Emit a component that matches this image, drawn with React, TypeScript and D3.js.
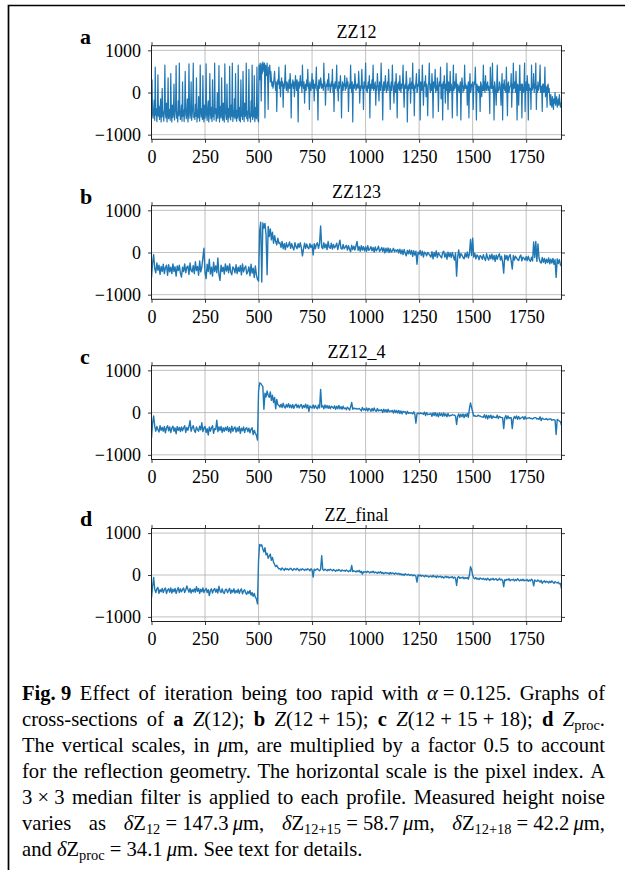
import React, { useEffect, useRef } from 'react';
import * as d3 from 'd3';

// ---------- data ----------
const X_MAX = 1915;
const X_TICKS = [0, 250, 500, 750, 1000, 1250, 1500, 1750];
const Y_TICKS = [-1000, 0, 1000];
const Y_DOMAIN = [-1110, 1110];
const PANEL_TITLES = ['ZZ12', 'ZZ123', 'ZZ12_4', 'ZZ_final'];
const PANEL_LETTERS = ['a', 'b', 'c', 'd'];

// ZZ12: sampled every 2.5 pixel indices (767 values)
const zz12 = [
  -250, 300, -520, -610, -430, -180, -660, 600, -540, -380, -690, -470, 420, -560, -320, -640, -500, -150, -700, -420,
  100, -580, -460, -680, -350, 650, -520, -600, -250, -700, -480, 350, -620, -540, -400, -660, 450, -450, -700, -300,
  -590, -480, 200, -650, -520, -380, 640, -610, -460, -700, -200, -550, 700, -430, -640, -500, -300, -680, 250, -560,
  -420, -690, -330, 500, -520, -620, -450, -150, -700, -560, 680, -400, -610, -480, 250, -660, -530, -350, 700, -590,
  -470, -640, -280, -560, 350, -700, -420, -600, -100, -520, -680, 650, -450, -580, -380, -640, 400, -560, -700, -300,
  -610, -480, 680, -540, -660, -400, -200, -700, -520, 450, -460, -620, -350, -690, 300, -570, -440, -650, 700, -500,
  -380, -680, -560, 0, -610, -450, 640, -700, -520, -330, -600, 350, -480, -660, -250, -580, -700, 680, -430, -560,
  -640, 200, -520, -700, -380, -600, 620, -470, -650, -300, -560, 700, -690, -440, -580, -150, -620, 450, -530, -680,
  -420, -600, 650, -500, -660, -350, -700, 300, -560, -480, -640, 500, -410, -690, -250, -570, -520, 700, -620, -450,
  -680, -380, 550, -600, -500, -700, -200, -560, 650, -640, -450, -580, 400, -690, -520, -350, -620, 600, -480, -660,
  -700, 650, 300, 700, 550, -200, 680, 450, 720, 620, 500, 700, -600, 650, 550, 400, 700, 300, -400, 600,
  450, 650, 250, 500,
  300, 150, 250, 100, 200, 350, 500, 200, 50, 250, -450, 150, 300, 200, 600, 100, 250, -100, 200, 350,
  150, 250, -350, 200, 100, 300, 650, 150, 50, 250, 200, 0, 150, 300, 100, 450, 250, -600, 200, 150,
  300, 100, 250, -100, 150, 400, 200, 50, 300, 150, -700, 250, 100, 200, 400, 150, 250, 0, 650, 200,
  100, 250, -250, 150, 200, 50, 300, 150, 550, 100, 200, -400, 250, 150, 50, 200, 450, 100, 300, 150,
  -200, 200, 100, 250, 600, 50, 150, -650, 200, 300, 100, 150, 350, 250, 100, 200, 150, 50, 700, 150,
  250, -300, 100, 200, 150, 300, 50, 450, 150, 200, 0, 100, 250, 150, 550, 0, 200, -450, 150, 250,
  100, 200, 650, 50, 150, -200, 250, 100, 200, 400, 150, -600, 100, 250, 50, 200, 150, 400, 50, 200,
  100, 350, 150, 250, -450, 50, 200, 100, 650, 150, 0, 250, -700, 150, 200, 100, 450, 250, 50, 100,
  200, 150, 100, 500, 250, -250, 150, 50, 200, 550, 100, 150, -400, 250, 100, 200, 700, 50, 150, 0,
  150, 250, 100, 400, -600, 200, 50, 150, 300, 100, 650, 50, 200, 100, 250, -300, 150, 50, 450, 200,
  100, -200, 250, 150, 50, 700, 200, 100, -650, 150, 250, 50, 200, 400, 100, 0, 150, 250, 50, 550,
  200, 100, -400, 150, 250, 50, 650, 200, 100, -250, 150, 250, 0, 450, 150, -600, 200, 100, 250, 50,
  400, 150, 0, 200, 100, 250, 650, 50, -350, 150, 200, 100, 500, 250, -700, 150, 50, 200, 100, 350,
  -250, 150, 250, 100, 700, 50, 200, -550, 150, 100, 250, 450, 0, 50, 200, 150, 550, 100, -650, 250,
  150, 50, 650, 200, -300, 100, 250, 150, 400, -100, 200, 50, -550, 150, 250, 700, 100, 0, 200, 50,
  450, 150, -600, 250, 100, 200, 550, 0, 150, 50, 350, 200, -450, 100, 250, 150, 600, -150, 50, 200,
  -650, 250, 100, 400, 150, -250, 200, 50, 700, 100, -400, 250, 150, 0, 500, 50, 200, 100, -600, 150,
  650, 50, 250, 100, 150, 450, 100, -550, 200, 50, 150, 0, 150, 250, -650, 100, 350, 200, 0, 150,
  50, 650, 100, 200, 100, 150, -300, 150, 250, -600, 100, 450, 0, 50, 200, 150, 250, -400, 100, 250,
  200, 600, 100, -650, 200, 50, 150, 0, 150, 100, -450, 250, 200, -100, 150, 50, 650, 50, 250, 0,
  400, 100, 50, 200, 250, 50, 150, 50, -500, 600, 200, 100, 100, 700, 0, 150, -650, 250, 150, 0,
  -300, 150, 650, 0, 100, 50, 250, 200, 50, -300, 150, 450, -650, 200, 100, 300, 50, 150, 0, 600,
  50, -550, 200, 250, 0, 100, 150, 150, 450, -350, 200, 0, 700, 100, 150, 250, 0, 500, 100, -650,
  200, 150, -300, 150, 650, 50, 100, 200, -600, 200, 50, 0, 150, 700, -450, 100, 250, 50, 400, 150,
  -650, 200, 100, 50, 100, -400, 650, 50, 100, 150, 450, 0, 200, 100, 700, -400, 150, 0, 250, 50,
  100, 250, 650, 0, 100, 150, -450, 200, 200, 0, 50, 600, -100, 150, 100, -350, 150, 200, 0, 100,
  -150, -300, -50, -250, -350, -100, -200, -400, -150, -250, 0, -300, -200, -100, -350, -250, -150, -300, -50, -200,
  -350, -250, -300,
];

// the three processed profiles: sampled every 5 pixel indices (384 values)
const zz123 = [
  -600, -250, -50, -380, -480, -250, -420, -300, -520, -330,
  -450, -280, -500, -360, -300, -540, -290, -460, -350, -500,
  -270, -450, -340, -560, -320, -430, -300, -490, -580, -350,
  -450, -270, -480, -350, -320, -520, -250, -430, -460, -310,
  -500, -220, -430, -330, -540, -200, -460, -350, -120, 100,
  -480, -620, -280, -450, -160, -510, -350, -560, -230, -450,
  -320, -480, -130, -530, -660, -300, -450, -350, -510, -270,
  -440, -320, -480, -270, -460, -530, -340, -380, -480, -290,
  -500, -350, -450, -310, -530, -270, -460, -370, -320, -510,
  -450, -340, -550, -280, -490, -370, -590, -320, -530, -640,
  -680, 500, 720, -700, 700, 580, 690, 420, -530, 620,
  380, 560, 300, 480, 220, 400, 260, 180, 340, 220,
  230, 120, 260, 90, 210, 70, 230, 130, 170, 250,
  100, 210, 120, 60, 230, 140, 90, 210, 120, 230,
  110, -80, 80, 220, 100, 200, 120, 90, 210, 120,
  180, -60, 210, 90, 190, 230, 100, 210, 630, 130,
  90, 230, 110, 200, 70, 260, 120, 100, 220, 80,
  190, 110, 150, 220, 70, 180, 290, 100, 80, 190,
  90, 130, 170, 60, 160, 80, 20, 170, 70, 150,
  60, 160, 260, 50, 140, 30, 160, 60, 140, 40,
  130, 30, 160, 50, 80, 140, 40, 120, 10, 130,
  40, 80, 150, 30, 60, 120, 30, 110, -10, 100,
  20, 110, 0, 90, 10, 40, 100, 20, 60, 30,
  70, -10, 80, -30, 60, -50, 70, -20, -80, 50,
  -30, 60, -40, 50, -90, 40, -60, 30, -280, 10,
  -40, 50, -70, 30, -110, 10, -20, -80, 0, -30,
  -70, -110, 20, -150, 0, -90, 40, -120, -10, -50,
  -90, -130, 0, 30, -110, -20, -160, 10, -100, -10,
  -120, 0, -90, -180, -10, -560, -110, 60, -130, -30,
  -60, -120, -150, -20, -110, 10, -130, -30, 310, -70,
  340, -110, -20, -150, -60, -90, -170, -70, -100, -160,
  -50, -140, -190, -30, -130, -180, -60, -150, -40, -170,
  -70, -210, -60, -160, -80, -30, -180, -90, -230, -490,
  -60, -160, -70, -190, -90, -50, -200, -390, -70, -180,
  -90, -130, -170, -190, -100, -60, -200, -110, -140, -180,
  -100, -190, -90, -180, -210, -110, -200, 250, -120, 260,
  -210, 200, -130, -220, -250, -120, -230, -140, -260, -160,
  -240, -130, -270, -160, -250, -140, -280, -170, -590, -150,
  -260, -170, -290, -320,
];

const zz12_4 = [
  -600, -250, -80, -320, -440, -330, -400, -460, -310, -420,
  -350, -440, -330, -480, -360, -310, -430, -340, -470, -370,
  -320, -440, -360, -500, -330, -420, -350, -450, -340, -430,
  -360, -310, -470, -350, -420, -330, -190, -440, -360, -310,
  -420, -470, -340, -400, -440, -320, -410, -240, -450, -360,
  -330, -470, -380, -530, -340, -440, -360, -310, -490, -380,
  -400, -180, -450, -340, -420, -330, -470, -360, -440, -350,
  -420, -330, -450, -360, -480, -320, -440, -370, -340, -460,
  -360, -440, -330, -490, -370, -430, -340, -470, -380, -360,
  -450, -370, -480, -390, -360, -520, -420, -490, -540, -650,
  500, 700, 690, 650, 620, 80, 460, 370, 510, 410,
  360, 490, 290, 410, 240, 360, 90, 310, 190, 170,
  130, 200, 120, 220, 140, 110, 190, 130, 210, 120,
  180, 110, 190, 100, 170, 200, 120, 180, 110, 170,
  190, 100, 170, 120, 200, 110, 180, 30, 160, 130,
  110, 180, 100, 170, 120, 90, 180, 110, 550, 130,
  160, 90, 180, 110, 170, 100, 160, 90, 150, 130,
  100, 160, 80, 150, 90, 170, 90, 140, 80, 150,
  90, 110, 70, 130, 100, 60, 130, 240, 80, 110,
  90, 100, 80, 90, 100, 70, 40, 120, 60, 90,
  50, 110, 40, 100, 80, 30, 100, 40, 110, 50,
  30, 100, 40, 60, 50, 70, 0, 80, 20, 70,
  10, 80, 20, 40, 30, 50, -10, 60, 0, 50,
  -10, 50, -20, 40, -30, 30, 10, 20, -40, 30,
  -20, 0, -10, -10, -30, 20, -40, -250, -30, -10,
  -30, -10, -20, -20, -40, 10, -70, 0, -50, -40,
  -40, -20, -90, -10, -70, 0, -80, -20, -100, -10,
  -70, -20, -90, -10, -80, -30, -100, -20, -80, -70,
  -70, -50, -60, -60, -80, -280, -90, -30, -110, -40,
  -100, -30, -120, -40, -90, -20, -110, 100, 230, 120,
  20, -80, -70, -90, -90, -60, -80, -80, -100, -100,
  -110, -50, -130, -60, -150, -70, -120, -60, -140, -80,
  -110, -110, -120, -60, -140, -90, -110, -120, -120, -380,
  -130, -70, -150, -80, -140, -120, -120, -380, -150, -90,
  -140, -80, -160, -90, -150, -130, -120, -100, -160, -90,
  -150, -130, -130, -120, -140, -140, -150, -130, -120, -120,
  -150, -140, -160, -100, -190, -130, -150, -160, -160, -140,
  -170, -160, -150, -150, -180, -170, -170, -180, -520, -160,
  -180, -200, -220, -300,
];

const zzFinal = [
  -550, -280, -60, -340, -420, -330, -300, -440, -350, -400,
  -320, -420, -350, -310, -440, -360, -330, -410, -310, -430,
  -340, -400, -320, -440, -360, -300, -420, -330, -400, -350,
  -310, -420, -360, -260, -340, -410, -320, -430, -350, -400,
  -330, -410, -280, -390, -320, -440, -340, -400, -310, -420,
  -360, -320, -420, -350, -490, -370, -330, -430, -360, -320,
  -410, -340, -430, -270, -380, -420, -330, -410, -440, -350,
  -340, -420, -370, -320, -440, -360, -410, -330, -430, -370,
  -420, -340, -440, -370, -330, -450, -380, -350, -430, -460,
  -390, -440, -370, -480, -420, -510, -440, -530, -570, -690,
  350, 730, 700, 720, 620, 550, 650, 480, 520, 400,
  450, 500, 350, 420, 300, 250, 200, 230, 180, 150,
  150, 120, 170, 140, 110, 160, 130, 150, 120, 140,
  160, 130, 110, 150, 140, 120, 160, 130, 100, 140,
  120, 150, 130, 110, 140, 120, 150, 130, 100, 150,
  120, -50, 140, 110, 130, 150, 120, 100, 140, 460,
  130, 110, 140, 120, 100, 130, 110, 140, 120, 100,
  130, 110, 90, 120, 100, 130, 110, 90, 120, 100,
  110, 90, 120, 100, 80, 110, 90, 230, 80, 100,
  90, 70, 100, 80, 110, 60, 90, 20, 80, 70,
  80, 60, 90, 70, 50, 80, 60, 90, 50, 70,
  60, 40, 70, 50, 80, 40, 60, 30, 50, 60,
  40, 50, 20, 60, 30, 50, 40, 20, 50, 30,
  20, 40, 10, 30, 0, 20, -10, 30, 10, 0,
  20, -10, 0, 10, -20, 0, -10, -30, -170, 0,
  -20, 0, -30, -10, -20, -40, -10, -30, -20, -50,
  -30, -20, -50, -10, -40, -30, -60, -20, -50, -40,
  -30, -60, -40, -70, -50, -30, -60, -40, -70, -50,
  -60, -40, -80, -50, -70, -250, -60, -40, -80, -60,
  -70, -50, -90, -60, -80, -60, -100, 0, 200, 130,
  0, -70, -90, -60, -100, -80, -110, -70, -90, -100,
  -80, -110, -90, -120, -80, -100, -130, -90, -110, -80,
  -120, -100, -90, -130, -110, -80, -120, -100, -130, -280,
  -110, -130, -100, -120, -90, -140, -110, -120, -100, -140,
  -110, -130, -90, -120, -140, -110, -130, -100, -140, -120,
  -130, -110, -150, -120, -140, -100, -130, -260, -120, -140,
  -150, -120, -140, -170, -130, -200, -160, -140, -180, -150,
  -160, -190, -150, -180, -140, -170, -200, -160, -180, -190,
  -170, -210, -200, -330,
];

const SERIES = [zz12, zz123, zz12_4, zzFinal];

// ---------- caption ----------
type Run = { t: string; s?: 'b' | 'i' | 'sub' };
const r = (t: string, s?: 'b' | 'i' | 'sub'): Run => ({ t, s });
const CAPTION: Run[][][] = [
  [[r('Fig. 9', 'b')], [r('Effect')], [r('of')], [r('iteration')], [r('being')], [r('too')], [r('rapid')], [r('with')], [r('α', 'i'), r(' = 0.125.')], [r('Graphs')], [r('of')]],
  [[r('cross-sections')], [r('of')], [r('a', 'b')], [r('Z', 'i'), r('(12);')], [r('b', 'b')], [r('Z', 'i'), r('(12\u2005+\u200515);')], [r('c', 'b')], [r('Z', 'i'), r('(12\u2005+\u200515\u2005+\u200518);')], [r('d', 'b')], [r('Z', 'i'), r('proc', 'sub'), r('.')]],
  [[r('The')], [r('vertical')], [r('scales,')], [r('in')], [r('μ', 'i'), r('m,')], [r('are')], [r('multiplied')], [r('by')], [r('a')], [r('factor')], [r('0.5')], [r('to')], [r('account')]],
  [[r('for')], [r('the')], [r('reflection')], [r('geometry.')], [r('The')], [r('horizontal')], [r('scale')], [r('is')], [r('the')], [r('pixel')], [r('index.')], [r('A')]],
  [[r('3\u2005×\u20053')], [r('median')], [r('filter')], [r('is')], [r('applied')], [r('to')], [r('each')], [r('profile.')], [r('Measured')], [r('height')], [r('noise')]],
  [[r('varies')], [r('as')], [r('δ', 'i'), r('Z'), r('12', 'sub'), r(' = 147.3\u2009'), r('μ', 'i'), r('m,')], [r('δ', 'i'), r('Z'), r('12+15', 'sub'), r(' = 58.7\u2009'), r('μ', 'i'), r('m,')], [r('δ', 'i'), r('Z'), r('12+18', 'sub'), r(' = 42.2\u2009'), r('μ', 'i'), r('m,')]],
  [[r('and')], [r('δ', 'i'), r('Z'), r('proc', 'sub'), r(' = 34.1\u2009'), r('μ', 'i'), r('m.')], [r('See')], [r('text')], [r('for')], [r('details.')]],
];

const FONT = '"Liberation Serif", "Times New Roman", serif';

export default function App() {
  const ref = useRef<SVGSVGElement>(null);

  useEffect(() => {
    const svg = d3.select(ref.current);
    svg.selectAll('*').remove();

    // frame
    svg.append('path')
      .attr('d', 'M8.5,870 L8.5,5.5 L625,5.5')
      .attr('fill', 'none').attr('stroke', '#000').attr('stroke-width', 1.7);

    const L = 151.5, R = 561.5;
    const tops = [45.7, 205.7, 365.7, 528.5];
    const bottoms = [139.3, 299.3, 459.5, 621.5];
    const fmt = (d: number) => (d < 0 ? '\u2212' + Math.abs(d) : String(d));

    SERIES.forEach((data, k) => {
      const top = tops[k], bot = bottoms[k];
      const x = d3.scaleLinear().domain([0, X_MAX]).range([L, R]);
      const y = d3.scaleLinear().domain(Y_DOMAIN).range([bot, top]);
      const g = svg.append('g');

      // grid
      g.selectAll('line.gx').data(X_TICKS).enter().append('line')
        .attr('x1', d => x(d)).attr('x2', d => x(d)).attr('y1', top).attr('y2', bot)
        .attr('stroke', '#b0b0b0').attr('stroke-width', 0.8);
      g.selectAll('line.gy').data(Y_TICKS).enter().append('line')
        .attr('x1', L).attr('x2', R).attr('y1', d => y(d)).attr('y2', d => y(d))
        .attr('stroke', '#b0b0b0').attr('stroke-width', 0.8);

      // data line
      const clipId = `clip-${k}`;
      svg.append('clipPath').attr('id', clipId).append('rect')
        .attr('x', L).attr('y', top).attr('width', R - L).attr('height', bot - top);
      const n = data.length;
      const line = d3.line<number>()
        .x((_, i) => x((i * X_MAX) / (n - 1)))
        .y(d => y(d));
      g.append('path').attr('d', line(data) || '')
        .attr('fill', 'none').attr('stroke', '#1f77b4').attr('stroke-width', k === 0 ? 1.2 : 1.4)
        .attr('stroke-linejoin', 'round')
        .attr('clip-path', `url(#${clipId})`);

      // axes
      const styleAxis = (sel: any) => {
        sel.select('.domain').remove();
        sel.selectAll('.tick line').attr('stroke', '#222').attr('stroke-width', 0.9);
        sel.selectAll('.tick text').attr('font-family', FONT).attr('font-size', 18).attr('fill', '#000');
      };
      const gl = g.append('g').attr('transform', `translate(${L},0)`)
        .call(d3.axisLeft(y).tickValues(Y_TICKS).tickSize(3.5).tickPadding(7).tickFormat(d => fmt(+d)));
      styleAxis(gl);
      const gr = g.append('g').attr('transform', `translate(${R},0)`)
        .call(d3.axisRight(y).tickValues(Y_TICKS).tickSize(3.5).tickFormat(() => ''));
      styleAxis(gr);
      const gb = g.append('g').attr('transform', `translate(0,${bot})`)
        .call(d3.axisBottom(x).tickValues(X_TICKS).tickSize(3.5).tickPadding(7.7).tickFormat(d => fmt(+d)));
      styleAxis(gb);
      const gt = g.append('g').attr('transform', `translate(0,${top})`)
        .call(d3.axisTop(x).tickValues(X_TICKS).tickSize(3.5).tickFormat(() => ''));
      styleAxis(gt);

      // spines
      g.append('rect').attr('x', L).attr('y', top).attr('width', R - L).attr('height', bot - top)
        .attr('fill', 'none').attr('stroke', '#222').attr('stroke-width', 1);

      // title + letter
      g.append('text').attr('x', (L + R) / 2).attr('y', top - 7.5)
        .attr('text-anchor', 'middle').attr('font-family', FONT).attr('font-size', 18)
        .text(PANEL_TITLES[k]);
      g.append('text').attr('x', 80).attr('y', top - 2.2)
        .attr('font-family', FONT).attr('font-size', 22).attr('font-weight', 'bold')
        .text(PANEL_LETTERS[k]);
    });

    // caption, justified
    const FS = 20.6;
    const cap = svg.append('g').attr('font-family', FONT).attr('font-size', FS).attr('fill', '#000');
    const CX0 = 22, CX1 = 605, BASE0 = 699.5, LEAD = 26.1;
    CAPTION.forEach((words, li) => {
      const yb = BASE0 + li * LEAD;
      const nodes = words.map(word => {
        const t = cap.append('text').attr('x', 0).attr('y', yb).style('white-space', 'pre');
        let shifted = false;
        word.forEach(run => {
          const ts = t.append('tspan').text(run.t);
          if (run.s === 'b') ts.attr('font-weight', 'bold');
          if (run.s === 'i') ts.attr('font-style', 'italic');
          if (run.s === 'sub') {
            ts.attr('font-size', FS * 0.7);
            if (!shifted) { ts.attr('dy', 4); shifted = true; }
          } else if (shifted) {
            ts.attr('dy', -4); shifted = false;
          }
        });
        return t;
      });
      const widths = nodes.map(t => (t.node() as SVGTextElement).getComputedTextLength());
      const total = widths.reduce((a, b) => a + b, 0);
      const last = li === CAPTION.length - 1;
      const gap = last ? FS * 0.25 : (CX1 - CX0 - total) / (nodes.length - 1);
      let cx = CX0;
      nodes.forEach((t, i) => {
        t.attr('x', cx);
        cx += widths[i] + gap;
      });
    });
  }, []);

  return (
    <svg
      ref={ref}
      width={625}
      height={870}
      style={{ position: 'absolute', left: 0, top: 0, background: '#fff' }}
    />
  );
}
